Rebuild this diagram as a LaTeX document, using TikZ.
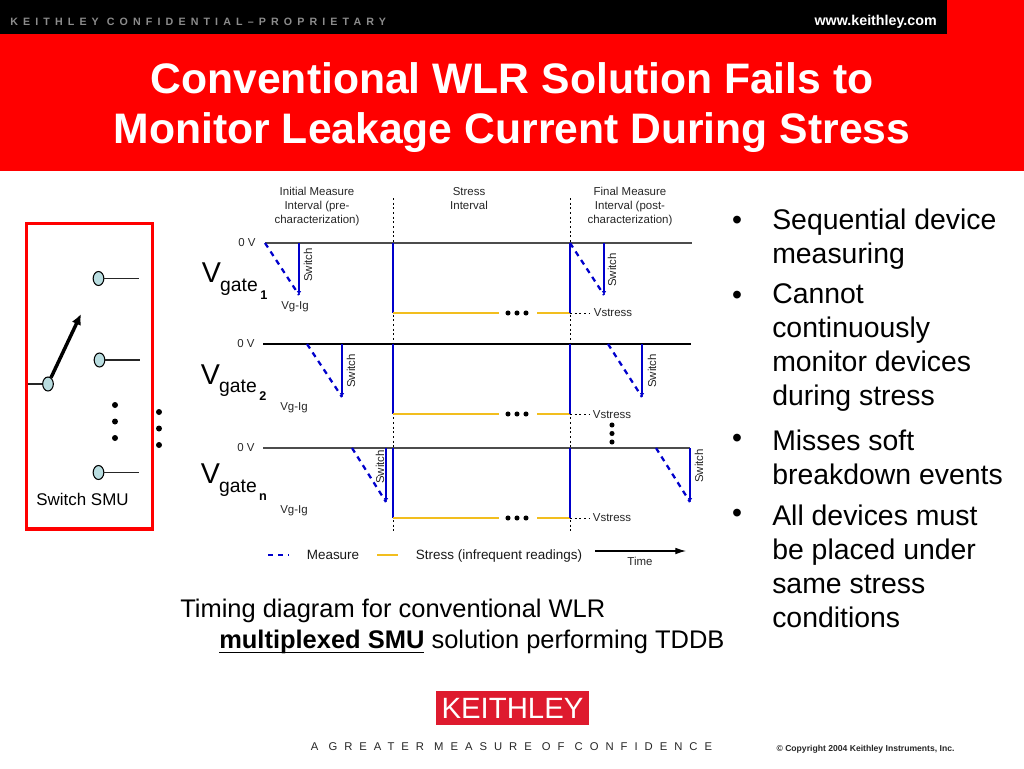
\documentclass[tikz,border=0pt]{standalone}
\usepackage{fontspec}
\setmainfont{Liberation Sans}
\newfontfamily\spacedtop[LetterSpace=48]{Liberation Sans Bold}
\newfontfamily\spacedslogan[LetterSpace=62]{Liberation Sans}
\usetikzlibrary{arrows.meta}
\usetikzlibrary{shapes.geometric}
\definecolor{wlrred}{HTML}{FF0000}
\definecolor{wlrblue}{HTML}{0000CC}
\definecolor{wlryellow}{HTML}{F2BE1E}
\definecolor{wlrteal}{HTML}{B9DDE0}
\definecolor{logored}{HTML}{DE1A2E}
\newsavebox{\underbox}
\newcommand{\thickunder}[1]{\sbox{\underbox}{#1}\rlap{\rule[-4pt]{\wd\underbox}{1.3pt}}\usebox{\underbox}}
\tikzset{
    small/.style={inner sep=0pt, font=\fontsize{8.6pt}{10.5pt}\selectfont, text=black!85, align=center},
    legendtext/.style={inner sep=0pt, font=\fontsize{10.1pt}{12pt}\selectfont, text=black!90},
    bigv/.style={inner sep=0pt, font=\fontsize{21.5pt}{24pt}\selectfont},
    gatetext/.style={inner sep=0pt, font=\fontsize{14.5pt}{17pt}\selectfont},
    gatesub/.style={inner sep=0pt, font=\fontsize{9.5pt}{11pt}\bfseries\selectfont},
    bullettext/.style={inner sep=0pt, anchor=west, align=left, font=\fontsize{21.3pt}{25.5pt}\selectfont},
    bulletmark/.style={inner sep=0pt, font=\fontsize{21.3pt}{25.5pt}\selectfont},
    captext/.style={inner sep=0pt, anchor=base west, font=\fontsize{19.1pt}{22pt}\selectfont},
    contact/.style={ellipse, draw=black, fill=wlrteal, line width=0.8pt, minimum width=8pt, minimum height=10.5pt, inner sep=0pt},
    smalldot/.style={circle, fill=black, minimum size=3.8pt, inner sep=0pt},
    bigdot/.style={circle, fill=black, minimum size=4.5pt, inner sep=0pt},
    axis/.style={line width=1pt, black!70},
    wire/.style={line width=0.8pt, black!85},
    gridline/.style={line width=0.7pt, dash pattern=on 1.5pt off 2pt},
    stressline/.style={line width=1.6pt, wlryellow},
    stepline/.style={line width=2pt, wlrblue},
    switchline/.style={line width=1.6pt, wlrblue, -{Latex[length=3pt,width=3.5pt]}},
    measureline/.style={line width=1.7pt, wlrblue, dash pattern=on 4pt off 3.6pt},
}

\begin{document}
\begin{tikzpicture}[x=0.75pt, y=-0.75pt]
    \useasboundingbox (0,0) rectangle (1024,768);

    \fill[wlrred] (0,0) rectangle (1024,171);
    \fill[black] (0,0) rectangle (947,34);
    \node[
        anchor=west,
        inner sep=0pt,
        text=black!45,
        font=\spacedtop\fontsize{8pt}{9pt}\selectfont]
        (banner) at (10,22) {KEITHLEY CONFIDENTIAL–PROPRIETARY};
    \node[
        anchor=east,
        inner sep=0pt,
        text=white,
        font=\fontsize{10.7pt}{12pt}\bfseries\selectfont]
        (website) at (937,22) {www.keithley.com};
    \node[
        align=center,
        inner sep=0pt,
        text=white,
        font=\fontsize{32pt}{37.5pt}\bfseries\selectfont]
        (title) at (512,108) {Conventional WLR Solution Fails to\\Monitor Leakage Current During Stress};

    \draw[wlrred, line width=2.7pt] (26.5,223.5) rectangle (152.5,529);
    \node[contact] (contactA) at (98.5,278.5) {};
    \node[contact] (contactB) at (99.5,360) {};
    \node[contact] (contactC) at (98.5,472.5) {};
    \node[contact] (common) at (48,384) {};
    \coordinate (wireA) at (139,278.5);
    \coordinate (wireB) at (140,360);
    \coordinate (wireC) at (139,472.5);
    \coordinate (wireIn) at (28,384);
    \coordinate (armEnd) at (81,314);
    \draw[wire] (contactA) -- (wireA);
    \draw[wire] (contactB) -- (wireB);
    \draw[wire] (contactC) -- (wireC);
    \draw[wire] (wireIn) -- (common);
    \draw[line width=2.6pt, -{Latex[length=8pt,width=7.5pt]}] (common) -- (armEnd);
    \node[bigdot] (innerA) at (115,405) {};
    \node[bigdot] (innerB) at (115,421.5) {};
    \node[bigdot] (innerC) at (115,438) {};
    \node[bigdot] (outerA) at (159,412) {};
    \node[bigdot] (outerB) at (159,428.5) {};
    \node[bigdot] (outerC) at (159,445) {};
    \node[inner sep=0pt, font=\fontsize{12.7pt}{14pt}\selectfont] (switchsmu) at (82.5,499.5) {Switch SMU};

    \node[small] (initial) at (317,206.5) {Initial Measure\\Interval (pre-\\characterization)};
    \node[small] (stress) at (469,198.5) {Stress\\Interval};
    \node[small] (final) at (630,206.5) {Final Measure\\Interval (post-\\characterization)};

    \coordinate (gridAtop) at (393,198);
    \coordinate (gridAbot) at (393,531);
    \coordinate (gridBtop) at (570,198);
    \coordinate (gridBbot) at (570,531);
    \draw[gridline] (gridAtop) -- (gridAbot);
    \draw[gridline] (gridBtop) -- (gridBbot);

    % row 1
    \coordinate (r1start) at (265,243);
    \coordinate (r1end) at (692,243);
    \coordinate (r1a) at (299,243);
    \coordinate (r1b) at (299,295);
    \coordinate (r1c) at (393,243);
    \coordinate (r1d) at (393,313);
    \coordinate (r1e) at (499,313);
    \coordinate (r1f) at (537,313);
    \coordinate (r1g) at (570,313);
    \coordinate (r1h) at (570,243);
    \coordinate (r1i) at (604,243);
    \coordinate (r1j) at (604,295);
    \coordinate (r1k) at (590,313);
    \draw[axis] (r1start) -- (r1end);
    \draw[measureline] (r1start) -- (r1b);
    \draw[switchline] (r1a) -- (r1b);
    \draw[stepline] (r1c) -- (r1d);
    \draw[stressline] (r1d) -- (r1e);
    \draw[stressline] (r1f) -- (r1g);
    \draw[stepline] (r1h) -- (r1g);
    \draw[measureline] (r1h) -- (r1j);
    \draw[switchline] (r1i) -- (r1j);
    \draw[gridline] (r1g) -- (r1k);
    \node[smalldot] (r1dotA) at (508,313) {};
    \node[smalldot] (r1dotB) at (517,313) {};
    \node[smalldot] (r1dotC) at (526,313) {};
    \node[small] (r1zero) at (247,243) {0 V};
    \node[small, rotate=90] (r1switchA) at (308,265) {Switch};
    \node[small, rotate=90] (r1switchB) at (612,270) {Switch};
    \node[small] (r1vgig) at (295,307) {Vg-Ig};
    \node[small] (r1vstress) at (613,313) {Vstress};
    \node[bigv] (r1v) at (211.5,273) {V};
    \node[gatetext] (r1gate) at (239,287) {gate};
    \node[gatesub] (r1sub) at (264,295) {1};

    % row 2
    \coordinate (r2start) at (263,344);
    \coordinate (r2end) at (691,344);
    \coordinate (r2slope) at (307,344);
    \coordinate (r2a) at (342,344);
    \coordinate (r2b) at (342,397);
    \coordinate (r2c) at (393,344);
    \coordinate (r2d) at (393,414);
    \coordinate (r2e) at (499,414);
    \coordinate (r2f) at (537,414);
    \coordinate (r2g) at (570,414);
    \coordinate (r2h) at (570,344);
    \coordinate (r2slopeB) at (608,344);
    \coordinate (r2i) at (642,344);
    \coordinate (r2j) at (642,397);
    \coordinate (r2k) at (590,414);
    \draw[line width=1pt] (r2start) -- (r2end);
    \draw[measureline] (r2slope) -- (r2b);
    \draw[switchline] (r2a) -- (r2b);
    \draw[stepline] (r2c) -- (r2d);
    \draw[stressline] (r2d) -- (r2e);
    \draw[stressline] (r2f) -- (r2g);
    \draw[stepline] (r2h) -- (r2g);
    \draw[measureline] (r2slopeB) -- (r2j);
    \draw[switchline] (r2i) -- (r2j);
    \draw[gridline] (r2g) -- (r2k);
    \node[smalldot] (r2dotA) at (508,414) {};
    \node[smalldot] (r2dotB) at (517,414) {};
    \node[smalldot] (r2dotC) at (526,414) {};
    \node[small] (r2zero) at (246,344) {0 V};
    \node[small, rotate=90] (r2switchA) at (351,371) {Switch};
    \node[small, rotate=90] (r2switchB) at (652,371) {Switch};
    \node[small] (r2vgig) at (294,408) {Vg-Ig};
    \node[small] (r2vstress) at (612,415) {Vstress};
    \node[bigv] (r2v) at (210.5,375) {V};
    \node[gatetext] (r2gate) at (238,388) {gate};
    \node[gatesub] (r2sub) at (263,396) {2};

    \node[smalldot] (rowdotA) at (612,425) {};
    \node[smalldot] (rowdotB) at (612,433.5) {};
    \node[smalldot] (rowdotC) at (612,442) {};

    % row n
    \coordinate (r3start) at (263,448);
    \coordinate (r3end) at (690,448);
    \coordinate (r3slope) at (352,448);
    \coordinate (r3a) at (386,448);
    \coordinate (r3b) at (386,502);
    \coordinate (r3c) at (393,448);
    \coordinate (r3d) at (393,518);
    \coordinate (r3e) at (499,518);
    \coordinate (r3f) at (537,518);
    \coordinate (r3g) at (570,518);
    \coordinate (r3h) at (570,448);
    \coordinate (r3slopeB) at (656,448);
    \coordinate (r3j) at (690,502);
    \coordinate (r3k) at (590,518);
    \draw[axis] (r3start) -- (r3end);
    \draw[measureline] (r3slope) -- (r3b);
    \draw[switchline] (r3a) -- (r3b);
    \draw[stepline] (r3c) -- (r3d);
    \draw[stressline] (r3d) -- (r3e);
    \draw[stressline] (r3f) -- (r3g);
    \draw[stepline] (r3h) -- (r3g);
    \draw[measureline] (r3slopeB) -- (r3j);
    \draw[switchline] (r3end) -- (r3j);
    \draw[gridline] (r3g) -- (r3k);
    \node[smalldot] (r3dotA) at (508,518) {};
    \node[smalldot] (r3dotB) at (517,518) {};
    \node[smalldot] (r3dotC) at (526,518) {};
    \node[small] (r3zero) at (246,448) {0 V};
    \node[small, rotate=90] (r3switchA) at (380,467) {Switch};
    \node[small, rotate=90] (r3switchB) at (699,466) {Switch};
    \node[small] (r3vgig) at (294,511) {Vg-Ig};
    \node[small] (r3vstress) at (612,518) {Vstress};
    \node[bigv] (r3v) at (210.5,474) {V};
    \node[gatetext] (r3gate) at (238,488) {gate};
    \node[gatesub] (r3sub) at (263,497) {n};

    \coordinate (legMeasureA) at (268,555);
    \coordinate (legMeasureB) at (289,555);
    \coordinate (legStressA) at (377,555);
    \coordinate (legStressB) at (398,555);
    \coordinate (timeA) at (595,551);
    \coordinate (timeB) at (686,551);
    \draw[measureline] (legMeasureA) -- (legMeasureB);
    \draw[stressline] (legStressA) -- (legStressB);
    \draw[line width=0.8pt, -{Latex[length=8pt,width=5pt]}] (timeA) -- (timeB);
    \node[legendtext] (measure) at (333,555) {Measure};
    \node[legendtext] (stresskey) at (499,556) {Stress (infrequent readings)};
    \node[small] (time) at (640,561) {Time};

    \node[captext] (capA) at (180,617) {Timing diagram for conventional WLR};
    \node[captext] (capB) at (219,648) {\thickunder{\textbf{multiplexed SMU}} solution performing TDDB};

    \node[bulletmark] (markA) at (737,223) {•};
    \node[bulletmark] (markB) at (737,298) {•};
    \node[bulletmark] (markC) at (737,441) {•};
    \node[bulletmark] (markD) at (737,516) {•};
    \node[bullettext] (itemA) at (772,239) {Sequential device\\measuring};
    \node[bullettext] (itemB) at (772,348) {Cannot\\continuously\\monitor devices\\during stress};
    \node[bullettext] (itemC) at (772,457) {Misses soft\\breakdown events};
    \node[bullettext] (itemD) at (772,566) {All devices must\\be placed under\\same stress\\conditions};

    \node[
        fill=logored,
        text=white,
        inner sep=0pt,
        minimum width=115pt,
        minimum height=25.5pt,
        font=\fontsize{22pt}{24pt}\selectfont]
        (logo) at (512.5,708) {KEITHLEY};
    \node[
        inner sep=0pt,
        text=black!85,
        font=\spacedslogan\fontsize{8.45pt}{10pt}\selectfont]
        (slogan) at (511.5,747) {A GREATER MEASURE OF CONFIDENCE};
    \node[
        inner sep=0pt,
        text=black!85,
        font=\fontsize{6.45pt}{8pt}\bfseries\selectfont]
        (copyright) at (865.5,749) {© Copyright 2004 Keithley Instruments, Inc.};
\end{tikzpicture}
\end{document}
